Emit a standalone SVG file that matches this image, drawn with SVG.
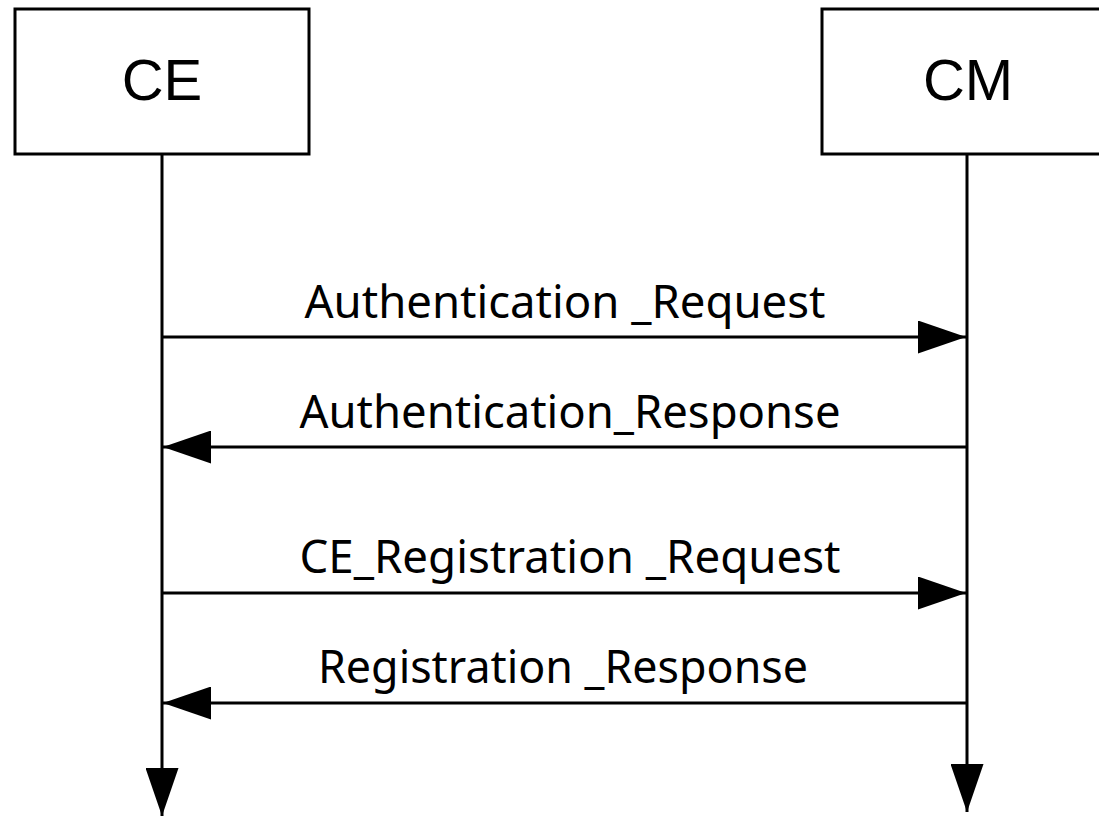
<svg xmlns="http://www.w3.org/2000/svg" width="1099" height="817" viewBox="0 0 1099 817">
  <style>
    .box { fill: #ffffff; stroke: #000000; stroke-width: 3; }
    .life { stroke: #000000; stroke-width: 3; fill: none; }
    .msg { stroke: #000000; stroke-width: 3; fill: none; }
    .title { font-family: "Liberation Sans", Arial, sans-serif; font-size: 58px; fill: #000000; text-anchor: middle; }
    .label { font-family: "Noto Sans", "Open Sans", sans-serif; font-size: 45px; fill: #000000; text-anchor: middle; }
  </style>
  <defs>
    <marker id="arrow" markerUnits="userSpaceOnUse" markerWidth="48" markerHeight="33" refX="48" refY="16.5" orient="auto" viewBox="0 0 48 33">
      <path d="M0,0 L48,16.5 L0,33 Z" fill="#000000"/>
    </marker>
  </defs>
  <rect width="1099" height="817" fill="#ffffff"/>

  <g id="node-CE">
    <rect class="box" x="15" y="9" width="294" height="145"/>
    <text class="title" x="162" y="100">CE</text>
  </g>
  <g id="node-CM">
    <rect class="box" x="822" y="9" width="290" height="145"/>
    <text class="title" x="968" y="100">CM</text>
  </g>

  <g id="connectors">
    <line class="life" x1="162" y1="154" x2="162" y2="816" marker-end="url(#arrow)"/>
    <line class="life" x1="967" y1="154" x2="967" y2="812" marker-end="url(#arrow)"/>

    <line class="msg" x1="162" y1="337" x2="966" y2="337" marker-end="url(#arrow)"/>
    <text class="label" x="565" y="318" textLength="521" lengthAdjust="spacingAndGlyphs">Authentication _Request</text>

    <line class="msg" x1="967" y1="447" x2="163" y2="447" marker-end="url(#arrow)"/>
    <text class="label" x="570" y="428" textLength="541" lengthAdjust="spacingAndGlyphs">Authentication_Response</text>

    <line class="msg" x1="162" y1="593" x2="966" y2="593" marker-end="url(#arrow)"/>
    <text class="label" x="570" y="573" textLength="541" lengthAdjust="spacingAndGlyphs">CE_Registration _Request</text>

    <line class="msg" x1="967" y1="703" x2="163" y2="703" marker-end="url(#arrow)"/>
    <text class="label" x="563" y="683" textLength="490" lengthAdjust="spacingAndGlyphs">Registration _Response</text>
  </g>
</svg>
